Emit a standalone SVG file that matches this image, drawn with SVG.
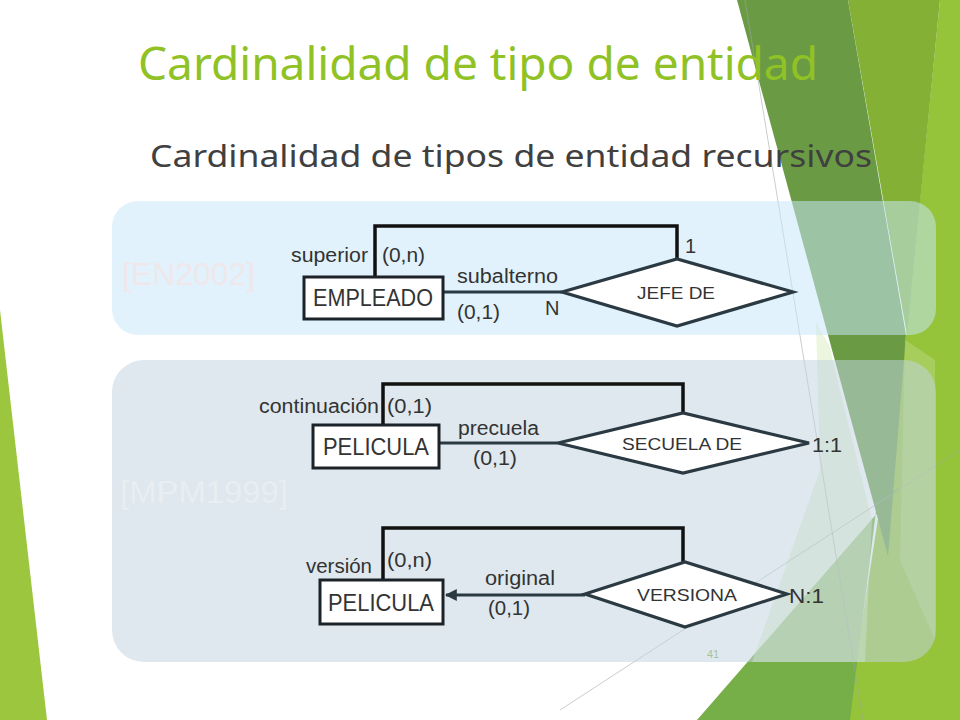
<svg xmlns="http://www.w3.org/2000/svg" width="960" height="720" viewBox="0 0 960 720">
<defs>
<style>
.lbl{font-family:"Liberation Sans",Arial,sans-serif;font-size:20px;fill:#333;}
.ent{font-family:"Liberation Sans",Arial,sans-serif;font-size:24px;fill:#333;text-anchor:middle;}
.rel{font-family:"Liberation Sans",Arial,sans-serif;font-size:17px;fill:#333;text-anchor:middle;}
.box{fill:#fff;stroke:#1c2328;stroke-width:3;}
.dia{fill:#fff;stroke:#2b3a42;stroke-width:3.2;stroke-linejoin:miter;}
.br{fill:none;stroke:#111;stroke-width:3.5;}
.ln{fill:none;stroke:#2b3a42;stroke-width:3;}
.thin{fill:none;stroke:#9aa8a0;stroke-width:0.8;opacity:0.7;}
</style>
<marker id="arr" viewBox="0 0 10 10" refX="9" refY="5" markerWidth="4" markerHeight="4" orient="auto" markerUnits="strokeWidth">
<path d="M0,0 L10,5 L0,10 z" fill="#2b3a42"/>
</marker>
</defs>
<rect width="960" height="720" fill="#fff"/>
<g id="background">
<polygon points="0,310 47,720 0,720" fill="#9cc63d"/>
<polygon points="940,0 960,0 960,720 847,720 907,330" fill="#95c43a"/>
<polygon points="848,0 940,0 907,335" fill="#84b135"/>
<polygon points="697,720 850,720 877,503 900,487" fill="#76ae48"/>
<polygon points="737,0 848,0 906,335 888,556" fill="#6a9b44"/>
<polygon points="816,322 830,347 833,362 872,520 865,662 752,662 820,470" fill="#d9ecbc" opacity="0.5"/>
<polygon points="905,340 935,360 935,640 900,560" fill="#c8e2a0" opacity="0.35"/>
<line class="thin" x1="745" y1="0" x2="863" y2="720"/>
<line class="thin" x1="560" y1="710" x2="960" y2="450"/>
</g>
<g id="panels">
<rect x="112" y="201" width="824" height="134" rx="26" fill="rgb(198,230,249)" opacity="0.53"/>
<rect x="112" y="360" width="824" height="302" rx="32" fill="rgb(193,212,223)" opacity="0.53"/>
<text x="122" y="285" font-family="Liberation Sans,Arial,sans-serif" font-size="32" fill="#efe7ea" textLength="133" lengthAdjust="spacingAndGlyphs">[EN2002]</text>
<text x="120" y="503" font-family="Liberation Sans,Arial,sans-serif" font-size="32" fill="#e8eef2" textLength="168" lengthAdjust="spacingAndGlyphs">[MPM1999]</text>
</g>
<g id="titles">
<text x="138" y="80" font-family="Noto Sans,DejaVu Sans,sans-serif" font-size="46" fill="#90c226" textLength="680" lengthAdjust="spacingAndGlyphs">Cardinalidad de tipo de entidad</text>
<text x="150" y="167" font-family="Noto Sans,DejaVu Sans,sans-serif" font-size="31" fill="#404040" textLength="722" lengthAdjust="spacingAndGlyphs">Cardinalidad de tipos de entidad recursivos</text>
</g>
<g id="connectors">
<polyline class="br" points="375,277 375,226 677,226 677,259"/>
<line class="ln" x1="443" y1="292" x2="562" y2="292"/>
<polyline class="br" points="383,425 383,384 683,384 683,413"/>
<line class="ln" x1="439" y1="443" x2="558" y2="443"/>
<polyline class="br" points="383,580 383,528 683,528 683,562"/>
<line class="ln" x1="585" y1="595" x2="446" y2="595" marker-end="url(#arr)"/>
</g>
<g id="empleado">
<rect class="box" x="304" y="277" width="139" height="42"/>
<text class="ent" x="373" y="306" textLength="120" lengthAdjust="spacingAndGlyphs">EMPLEADO</text>
</g>
<g id="jefe-de">
<polygon class="dia" points="562,292 677,259 793,292 677,326"/>
<text class="rel" x="676" y="299" textLength="78" lengthAdjust="spacingAndGlyphs">JEFE DE</text>
</g>
<g id="pelicula-1">
<rect class="box" x="313" y="425" width="126" height="43"/>
<text class="ent" x="376" y="455" textLength="106" lengthAdjust="spacingAndGlyphs">PELICULA</text>
</g>
<g id="secuela-de">
<polygon class="dia" points="558,443 683,413 809,443 683,473"/>
<text class="rel" x="682" y="450" textLength="120" lengthAdjust="spacingAndGlyphs">SECUELA DE</text>
</g>
<g id="pelicula-2">
<rect class="box" x="320" y="580" width="123" height="44"/>
<text class="ent" x="381" y="611" textLength="106" lengthAdjust="spacingAndGlyphs">PELICULA</text>
</g>
<g id="versiona">
<polygon class="dia" points="585,594 685,562 787,594 685,627"/>
<text class="rel" x="687" y="601" textLength="100" lengthAdjust="spacingAndGlyphs">VERSIONA</text>
</g>
<g id="labels">
<text class="lbl" x="291" y="262" textLength="77" lengthAdjust="spacingAndGlyphs">superior</text>
<text class="lbl" x="382" y="262" textLength="43" lengthAdjust="spacingAndGlyphs">(0,n)</text>
<text class="lbl" x="457" y="283" textLength="101" lengthAdjust="spacingAndGlyphs">subalterno</text>
<text class="lbl" x="457" y="319" textLength="43" lengthAdjust="spacingAndGlyphs">(0,1)</text>
<text class="lbl" x="545" y="315">N</text>
<text class="lbl" x="685" y="253">1</text>
<text class="lbl" x="259" y="413" textLength="120" lengthAdjust="spacingAndGlyphs">continuación</text>
<text class="lbl" x="387" y="413" textLength="45" lengthAdjust="spacingAndGlyphs">(0,1)</text>
<text class="lbl" x="458" y="435" textLength="81" lengthAdjust="spacingAndGlyphs">precuela</text>
<text class="lbl" x="473" y="465" textLength="44" lengthAdjust="spacingAndGlyphs">(0,1)</text>
<text class="lbl" x="812" y="452" textLength="30" lengthAdjust="spacingAndGlyphs">1:1</text>
<text class="lbl" x="306" y="573" textLength="66" lengthAdjust="spacingAndGlyphs">versión</text>
<text class="lbl" x="387" y="567" textLength="45" lengthAdjust="spacingAndGlyphs">(0,n)</text>
<text class="lbl" x="485" y="585" textLength="70" lengthAdjust="spacingAndGlyphs">original</text>
<text class="lbl" x="488" y="615" textLength="42" lengthAdjust="spacingAndGlyphs">(0,1)</text>
<text class="lbl" x="789" y="603" textLength="35" lengthAdjust="spacingAndGlyphs">N:1</text>
<text x="707" y="658" font-family="Liberation Sans,Arial,sans-serif" font-size="11" fill="#a7c29a">41</text>
</g>
</svg>
